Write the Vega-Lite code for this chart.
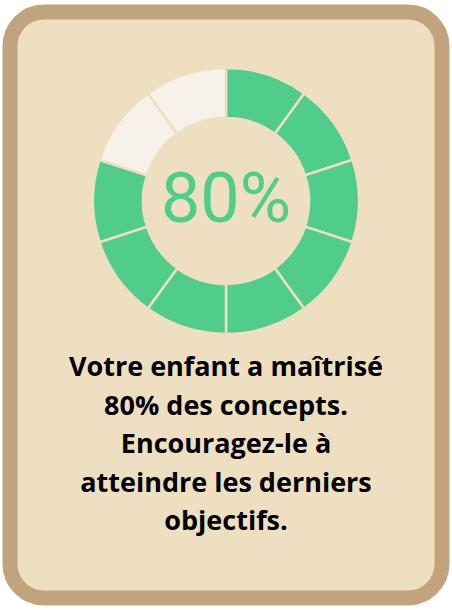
{
  "$schema": "https://vega.github.io/schema/vega-lite/v6.json",
  "width": 432,
  "height": 586,
  "autosize": {"type": "none"},
  "padding": {"left": 10, "right": 10, "top": 12, "bottom": 12},
  "background": "#ffffff",
  "config": {
    "view": {"fill": "#efdfc1", "stroke": "#c1a47d", "strokeWidth": 15, "cornerRadius": 34}
  },
  "datasets": {
    "segments": [
      {"segment": 1, "statut": "maîtrisé", "part": 1},
      {"segment": 2, "statut": "maîtrisé", "part": 1},
      {"segment": 3, "statut": "maîtrisé", "part": 1},
      {"segment": 4, "statut": "maîtrisé", "part": 1},
      {"segment": 5, "statut": "maîtrisé", "part": 1},
      {"segment": 6, "statut": "maîtrisé", "part": 1},
      {"segment": 7, "statut": "maîtrisé", "part": 1},
      {"segment": 8, "statut": "maîtrisé", "part": 1},
      {"segment": 9, "statut": "à atteindre", "part": 1},
      {"segment": 10, "statut": "à atteindre", "part": 1}
    ],
    "score": [{"maitrise": 0.8}],
    "message": [{"texte": "Votre enfant a maîtrisé\n80% des concepts.\nEncouragez-le à\natteindre les derniers\nobjectifs."}]
  },
  "layer": [
    {
      "data": {"name": "segments"},
      "mark": {"type": "arc", "outerRadius": 133, "innerRadius": 83, "stroke": "#efdfc1", "strokeWidth": 2.5},
      "encoding": {
        "theta": {"field": "part", "type": "quantitative", "stack": true},
        "order": {"field": "segment", "type": "quantitative"},
        "color": {
          "field": "statut",
          "type": "nominal",
          "scale": {"domain": ["maîtrisé", "à atteindre"], "range": ["#50cd8b", "#f6f2ea"]},
          "legend": null
        },
        "y": {"datum": "graphique", "type": "nominal", "axis": null,
              "scale": {"type": "point", "domain": ["graphique", "message"], "range": [189, 356], "padding": 0}}
      }
    },
    {
      "data": {"name": "score"},
      "mark": {"type": "text", "font": "Roboto", "fontSize": 70, "fontWeight": 400, "color": "#50cd8b", "baseline": "middle", "align": "center"},
      "encoding": {
        "text": {"field": "maitrise", "type": "quantitative", "format": ".0%"},
        "y": {"datum": "graphique", "type": "nominal", "axis": null}
      }
    },
    {
      "data": {"name": "message"},
      "mark": {"type": "text", "font": "Open Sans", "fontSize": 27, "fontWeight": "bold", "color": "#000000", "lineBreak": "\n", "lineHeight": 38.5, "baseline": "middle", "align": "center"},
      "encoding": {
        "text": {"field": "texte", "type": "nominal"},
        "y": {"datum": "message", "type": "nominal", "axis": null}
      }
    }
  ]
}
